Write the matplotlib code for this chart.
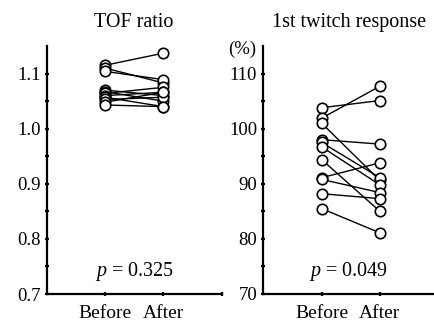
import numpy as np
import matplotlib.pyplot as plt
import matplotlib as mpl

# data (11 subjects)
tof_before = [1.115, 1.110, 1.104, 1.070, 1.067, 1.064, 1.060, 1.057, 1.053, 1.048, 1.043]
tof_after = [1.137, 1.083, 1.089, 1.060, 1.050, 1.075, 1.066, 1.040, 1.057, 1.066, 1.040]

twitch_before = [103.8, 101.9, 101.0, 98.0, 97.5, 96.7, 94.4, 91.1, 90.8, 88.2, 85.5]
twitch_after = [105.1, 107.7, 90.6, 97.2, 91.1, 89.8, 85.0, 93.8, 88.4, 87.3, 81.1]

xlabels = ['Before', 'After']
p_tof = 0.325
p_twitch = 0.049

# plot setting
mpl.rcParams['font.family'] = 'serif'
mpl.rcParams['font.serif'] = ['Liberation Serif', 'DejaVu Serif']
mpl.rcParams['mathtext.fontset'] = 'custom'
mpl.rcParams['mathtext.it'] = 'Liberation Serif:italic'
mpl.rcParams['mathtext.rm'] = 'Liberation Serif'
plt.rcParams['font.size'] = 13

fig = plt.figure(figsize=(4.34, 3.24), dpi=100)
ax1 = fig.add_axes([46.7 / 434, 30 / 324, 174.9 / 434, 248 / 324])
ax2 = fig.add_axes([263.3 / 434, 30 / 324, 170.7 / 434, 248 / 324])


def draw(ax, before, after, ylim, major, minor, fmt, title, p):
    for b, a in zip(before, after):
        ax.plot([1, 2], [b, a], color='black', lw=1.0, marker='o', ms=7.5,
                mfc='white', mec='black', mew=1.2, zorder=3)
    ax.set_ylim(*ylim)
    ax.set_yticks(major)
    ax.set_yticks(minor, minor=True)
    ax.set_yticklabels([fmt.format(v) for v in major])
    ax.spines['top'].set_visible(False)
    ax.spines['right'].set_visible(False)
    ax.spines['left'].set_linewidth(1.6)
    ax.spines['bottom'].set_linewidth(1.6)
    ax.tick_params(which='both', direction='inout', length=3, width=1.6)
    ax.tick_params(axis='y', pad=3, labelsize=13.5)
    ax.tick_params(axis='x', pad=6.5, labelsize=14)
    ax.set_title(title, fontsize=14.5, pad=14)
    ax.text(0.5, 0.09, '$p$ = %.3f' % p, transform=ax.transAxes,
            ha='center', va='center', fontsize=14.5)


draw(ax1, tof_before, tof_after, (0.7, 1.15), [0.7, 0.8, 0.9, 1.0, 1.1],
     [0.75, 0.85, 0.95, 1.05], '{:.1f}', 'TOF ratio', p_tof)
ax1.set_xlim(0, 3)
ax1.set_xticks([1, 2, 3])
ax1.set_xticklabels(xlabels + [''])

draw(ax2, twitch_before, twitch_after, (70, 115), [70, 80, 90, 100, 110],
     [75, 85, 95, 105], '{:.0f}', '1st twitch response', p_twitch)
ax2.set_xlim(0, 2.928)
ax2.set_xticks([1, 2])
ax2.set_xticklabels(xlabels)
ax2.text(-0.04, 0.985, '(%)', transform=ax2.transAxes, ha='right', va='center', fontsize=13.5)

for ax in (ax1, ax2):
    ax.patch.set_alpha(0)

fig.savefig('out.png', dpi=100)
